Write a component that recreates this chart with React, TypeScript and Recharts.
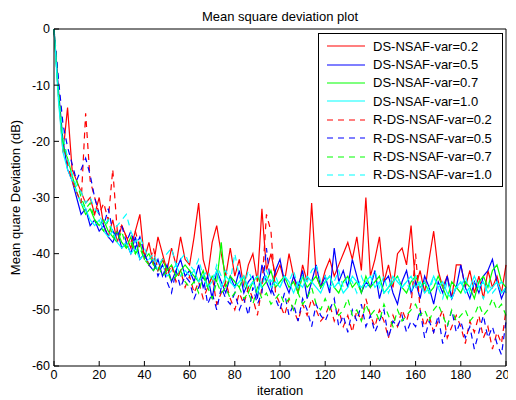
import { LineChart, Line, XAxis, YAxis, Legend, Label } from "recharts";

// sampled every 2 iterations, 0..200
const iterations = Array.from({ length: 101 }, (_, i) => i * 2);

const xTicks = [0, 20, 40, 60, 80, 100, 120, 140, 160, 180, 200];
const yTicks = [-60, -50, -40, -30, -20, -10, 0];

const dsRed02 = [
  0, -12, -22, -14, -25, -27, -29, -31, -30, -33,
  -30, -35, -37, -34, -38, -35, -37, -39, -36, -33,
  -41, -38, -42, -37, -40, -43, -39, -42, -37, -41,
  -42, -37, -31, -41, -44, -38, -35, -40, -44, -39,
  -44, -41, -46, -42, -40, -45, -32, -43, -40, -44,
  -42, -45, -40, -44, -47, -42, -45, -31, -44, -46,
  -43, -41, -44, -42, -40, -38, -41, -37, -43, -30,
  -44, -41, -37, -45, -42, -46, -40, -39, -42, -35,
  -46, -43, -47, -41, -36, -43, -46, -44, -48, -42,
  -42, -46, -43, -47, -44, -48, -43, -46, -44, -47,
  -42,
];

const dsBlue05 = [
  0, -11, -20, -25, -27, -30, -33, -32, -35, -34,
  -36, -35, -37, -38, -36, -39, -38, -40, -37, -41,
  -40, -42, -43, -41, -44, -42, -45, -43, -41, -44,
  -43, -45, -42, -46, -44, -48, -43, -45, -47, -44,
  -46, -43, -47, -45, -44, -48, -42, -45, -47, -43,
  -41, -45, -47, -44, -46, -43, -48, -45, -42, -46,
  -44, -47, -39, -45, -43, -46, -41, -44, -47, -45,
  -46, -43, -48, -45, -44, -47, -49, -45, -43, -47,
  -45, -48, -44, -46, -49, -45, -47, -44, -48, -46,
  -42, -46, -48, -45, -47, -44, -43, -41, -45, -48,
  -46,
];

const dsGreen07 = [
  0, -12, -21, -23, -26, -29, -31, -33, -32, -34,
  -35, -34, -36, -37, -36, -38, -39, -37, -40, -38,
  -41, -40, -42, -43, -41, -43, -42, -44, -43, -42,
  -43, -44, -45, -43, -46, -44, -45, -38, -46, -44,
  -45, -46, -44, -47, -45, -44, -46, -45, -43, -46,
  -45, -44, -46, -45, -47, -44, -46, -45, -44, -46,
  -45, -44, -46, -47, -45, -44, -46, -45, -47, -44,
  -46, -45, -44, -47, -46, -45, -44, -46, -47, -45,
  -44, -46, -45, -47, -46, -44, -46, -48, -45, -46,
  -47, -45, -46, -48, -45, -44, -46, -43, -42, -45,
  -46,
];

const dsCyan10 = [
  0, -13, -22, -25, -27, -29, -31, -32, -34, -35,
  -34, -36, -37, -36, -38, -39, -38, -40, -39, -41,
  -40, -42, -41, -43, -42, -44, -43, -42, -44, -43,
  -44, -43, -45, -44, -46, -45, -43, -46, -44, -45,
  -46, -45, -44, -46, -45, -47, -45, -44, -46, -45,
  -46, -44, -45, -47, -45, -46, -44, -45, -46, -47,
  -45, -44, -46, -45, -47, -46, -44, -45, -46, -45,
  -44, -46, -45, -47, -46, -44, -45, -46, -45, -44,
  -46, -45, -47, -46, -44, -46, -45, -47, -48, -46,
  -45, -47, -46, -44, -46, -45, -47, -46, -45, -47,
  -46,
];

const rdsRed02 = [
  0, -10, -19, -24, -27, -29, -31, -15, -27, -30,
  -33, -31, -34, -25, -36, -35, -37, -38, -36, -39,
  -40, -42, -39, -43, -41, -44, -42, -45, -43, -46,
  -44, -47, -45, -48, -46, -44, -49, -47, -45, -48,
  -50, -47, -49, -46, -48, -51, -46, -33, -36, -47,
  -49, -51, -48, -50, -52, -49, -51, -48, -50, -52,
  -51, -49, -52, -50, -53, -51, -54, -50, -52, -48,
  -51, -53, -50, -52, -55, -51, -53, -50, -52, -49,
  -40, -50, -53, -51, -54, -52, -50, -55, -53, -51,
  -53, -56, -52, -54, -51, -55, -53, -57, -54, -56,
  -50,
];

const rdsBlue05 = [
  0, -9, -17, -21, -24, -27, -25, -23, -26, -30,
  -33, -35, -32, -36, -37, -35, -38, -36, -39, -37,
  -40, -42, -41, -44, -42, -45, -47, -43, -46, -44,
  -45, -48, -46, -44, -49, -47, -50, -46, -48, -49,
  -47, -50, -48, -51, -46, -49, -47, -39, -46, -48,
  -50, -47, -51, -49, -52, -48, -50, -53, -49, -51,
  -52, -50, -48, -53, -51, -54, -50, -52, -49, -53,
  -51, -54, -52, -50, -55, -52, -53, -51, -54, -52,
  -53, -50, -55, -52, -54, -51, -56, -53, -50, -54,
  -52, -55, -53, -57, -54, -51, -55, -53, -56, -58,
  -52,
];

const rdsGreen07 = [
  0, -11, -20, -23, -26, -27, -30, -32, -31, -34,
  -35, -36, -34, -37, -38, -36, -39, -38, -40, -39,
  -41, -42, -43, -42, -44, -43, -45, -44, -43, -45,
  -46, -45, -47, -44, -46, -48, -45, -47, -46, -48,
  -47, -46, -48, -47, -49, -46, -48, -47, -49, -48,
  -47, -49, -48, -50, -47, -49, -48, -46, -49, -50,
  -48, -50, -49, -51, -50, -48, -51, -50, -52, -49,
  -51, -50, -52, -49, -51, -53, -50, -52, -51, -50,
  -49, -51, -50, -52, -50, -49, -51, -53, -50, -52,
  -51, -50, -52, -51, -49, -51, -50, -48, -50, -49,
  -51,
];

const rdsCyan10 = [
  0, -12, -19, -23, -26, -28, -29, -31, -30, -32,
  -33, -35, -34, -36, -35, -34, -33, -36, -38, -37,
  -39, -41, -40, -42, -41, -40, -39, -42, -41, -40,
  -42, -43, -41, -44, -43, -45, -42, -44, -43, -45,
  -40, -44, -46, -43, -45, -44, -46, -43, -45, -44,
  -46, -44, -45, -43, -46, -44, -45, -43, -42, -45,
  -44, -46, -45, -43, -46, -44, -45, -47, -44, -46,
  -45, -43, -46, -44, -47, -45, -44, -46, -45, -47,
  -44, -46, -45, -47, -44, -46, -48, -45, -47, -46,
  -46, -44, -47, -45, -46, -48, -45, -47, -46, -45,
  -47,
];

const series = [
  { key: "dsRed02", name: "DS-NSAF-var=0.2", color: "#ff0000", dash: undefined },
  { key: "dsBlue05", name: "DS-NSAF-var=0.5", color: "#0000ff", dash: undefined },
  { key: "dsGreen07", name: "DS-NSAF-var=0.7", color: "#00ff00", dash: undefined },
  { key: "dsCyan10", name: "DS-NSAF-var=1.0", color: "#00ffff", dash: undefined },
  { key: "rdsRed02", name: "R-DS-NSAF-var=0.2", color: "#ff0000", dash: "6 5" },
  { key: "rdsBlue05", name: "R-DS-NSAF-var=0.5", color: "#0000ff", dash: "6 5" },
  { key: "rdsGreen07", name: "R-DS-NSAF-var=0.7", color: "#00ff00", dash: "6 5" },
  { key: "rdsCyan10", name: "R-DS-NSAF-var=1.0", color: "#00ffff", dash: "6 5" },
];

const data = iterations.map((iter, i) => ({
  iter,
  dsRed02: dsRed02[i],
  dsBlue05: dsBlue05[i],
  dsGreen07: dsGreen07[i],
  dsCyan10: dsCyan10[i],
  rdsRed02: rdsRed02[i],
  rdsBlue05: rdsBlue05[i],
  rdsGreen07: rdsGreen07[i],
  rdsCyan10: rdsCyan10[i],
}));

const tickStyle = { fontSize: 12.5, fill: "#000" };
const black = { stroke: "#000" };

function LegendBox({ payload }: any) {
  return (
    <div
      style={{
        width: 185,
        height: 154,
        boxSizing: "border-box",
        border: "1px solid #000",
        background: "#fff",
        paddingTop: 3,
      }}
    >
      {(payload || []).map((entry: any) => {
        const s = series.find((x) => x.key === entry.dataKey);
        return (
          <div key={entry.value} style={{ display: "flex", alignItems: "center", height: 18.4 }}>
            <svg width={46} height={10} style={{ marginLeft: 8, flex: "none" }}>
              <line x1={0} y1={5} x2={38} y2={5} stroke={entry.color} strokeWidth={1.2} strokeDasharray={s?.dash} />
            </svg>
            <span style={{ fontSize: 13, color: "#000", whiteSpace: "nowrap" }}>{entry.value}</span>
          </div>
        );
      })}
    </div>
  );
}

export default function App() {
  return (
    <div style={{ fontFamily: "'Liberation Sans', Arial, sans-serif", background: "#fff" }}>
      <LineChart width={508} height={392} data={data} margin={{ top: 20, right: 9, left: 0, bottom: 0 }}>
        <XAxis
          dataKey="iter"
          type="number"
          domain={[0, 200]}
          ticks={xTicks}
          interval={0}
          height={34}
          tickSize={-5}
          tickMargin={9}
          tick={tickStyle}
          axisLine={black}
          tickLine={black}
        >
          <Label value="iteration" position="insideBottom" offset={5} style={{ fontSize: 13, fill: "#000" }} />
        </XAxis>
        <XAxis
          xAxisId="top"
          orientation="top"
          dataKey="iter"
          type="number"
          domain={[0, 200]}
          ticks={xTicks}
          interval={0}
          height={1}
          tickSize={-5}
          tick={false}
          axisLine={black}
          tickLine={black}
        >
          <Label value="Mean square deviation plot" position="top" offset={7} style={{ fontSize: 13, fill: "#000" }} />
        </XAxis>
        <YAxis
          type="number"
          domain={[-60, 0]}
          ticks={yTicks}
          interval={0}
          width={46}
          tickSize={-5}
          tickMargin={9}
          tick={tickStyle}
          axisLine={black}
          tickLine={black}
        >
          <Label
            value="Mean quare Deviation (dB)"
            angle={-90}
            position="insideLeft"
            offset={7}
            style={{ fontSize: 13, fill: "#000", textAnchor: "middle" }}
          />
        </YAxis>
        <YAxis
          yAxisId="right"
          orientation="right"
          type="number"
          domain={[-60, 0]}
          ticks={yTicks}
          interval={0}
          width={1}
          tickSize={-5}
          tick={false}
          axisLine={black}
          tickLine={black}
        />
        <Legend
          layout="vertical"
          align="center"
          verticalAlign="middle"
          content={<LegendBox />}
          wrapperStyle={{ top: 25, left: 310, width: 185 }}
        />
        {series.map((s) => (
          <Line
            key={s.key}
            type="linear"
            dataKey={s.key}
            name={s.name}
            stroke={s.color}
            strokeWidth={1.2}
            strokeDasharray={s.dash}
            dot={false}
            activeDot={false}
            isAnimationActive={false}
          />
        ))}
      </LineChart>
    </div>
  );
}
